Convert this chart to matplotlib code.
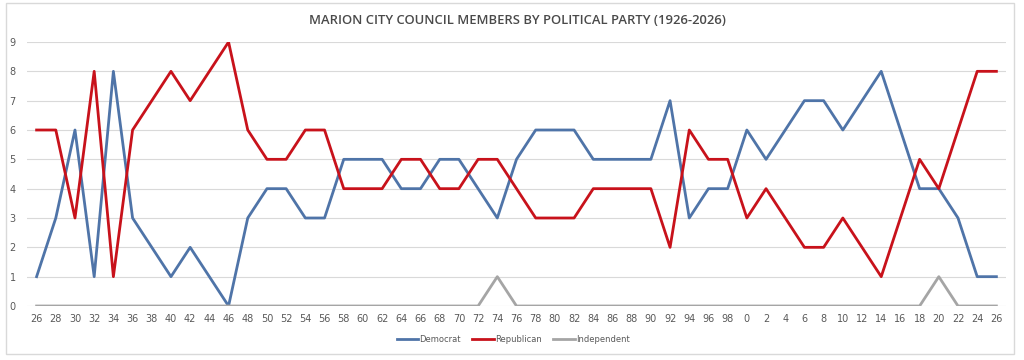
import matplotlib.pyplot as plt
from matplotlib.patches import Rectangle

# two-digit year labels, 1926 .. 2026
years = [str(y % 100) for y in range(1926, 2027, 2)]

democrat = [1, 3, 6, 1, 8, 3, 2, 1, 2, 1, 0, 3, 4, 4, 3, 3, 5, 5, 5, 4,
            4, 5, 5, 4, 3, 5, 6, 6, 6, 5, 5, 5, 5, 7, 3, 4, 4, 6, 5, 6,
            7, 7, 6, 7, 8, 6, 4, 4, 3, 1, 1]
republican = [6, 6, 3, 8, 1, 6, 7, 8, 7, 8, 9, 6, 5, 5, 6, 6, 4, 4, 4, 5,
              5, 4, 4, 5, 5, 4, 3, 3, 3, 4, 4, 4, 4, 2, 6, 5, 5, 3, 4, 3,
              2, 2, 3, 2, 1, 3, 5, 4, 6, 8, 8]
independent = [0, 0, 0, 0, 0, 0, 0, 0, 0, 0, 0, 0, 0, 0, 0, 0, 0, 0, 0, 0,
               0, 0, 0, 0, 1, 0, 0, 0, 0, 0, 0, 0, 0, 0, 0, 0, 0, 0, 0, 0,
               0, 0, 0, 0, 0, 0, 0, 1, 0, 0, 0]

fig = plt.figure(figsize=(10.24, 3.6), dpi=100)
ax = fig.add_axes([27 / 1024, 1 - 306 / 360, 979 / 1024, 264 / 360])

# light border round the whole chart
fig.patches.append(Rectangle((6 / 1024, 1 - 354 / 360), 1008 / 1024, 351 / 360,
                             transform=fig.transFigure, fill=False,
                             edgecolor='#d9d9d9', linewidth=1))

x = range(len(years))
ax.plot(x, democrat, color='#4f74a8', linewidth=2, label='Democrat')
ax.plot(x, republican, color='#c8121b', linewidth=2, label='Republican')
ax.plot(x, independent, color='#a5a5a5', linewidth=2, label='Independent')

ax.set_xlim(-0.5, len(years) - 0.5)
ax.set_ylim(0, 9)
ax.set_yticks(range(10))
ax.set_xticks(list(x))
ax.set_xticklabels(years)
ax.tick_params(axis='both', length=0, labelsize=7, colors='#595959')
ax.tick_params(axis='x', pad=6)
ax.tick_params(axis='y', pad=8)
ax.grid(axis='y', color='#d9d9d9', linewidth=0.8)
ax.set_axisbelow(True)
for s in ax.spines.values():
    s.set_visible(False)

fig.text(0.505, 1 - 20 / 360, 'MARION CITY COUNCIL MEMBERS BY POLITICAL PARTY (1926-2026)',
         ha='center', va='center', fontsize=9.4, fontweight='semibold',
         color='#4a4a4a', family='Open Sans')

fig.legend(loc='center', bbox_to_anchor=(0.501, 1 - 339 / 360), ncol=3,
           frameon=False, fontsize=6, handlelength=2.6, handletextpad=0.1,
           columnspacing=1.4, labelcolor='#595959')

fig.savefig('out.png', dpi=100)
